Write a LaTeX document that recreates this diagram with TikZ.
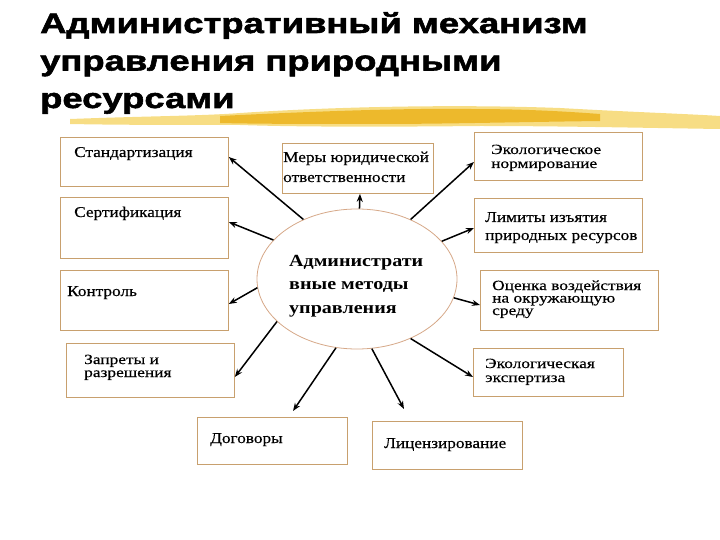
\documentclass[tikz,border=0pt]{standalone}
\usepackage{fontspec}
\setmainfont{Liberation Serif}
\newfontfamily\titlefont{Liberation Sans}[FakeStretch=1.3,FakeBold=2]
\newfontfamily\boxfont{Liberation Serif}[FakeStretch=1.15,FakeBold=0.4]
\newfontfamily\tightfont{Liberation Serif}[FakeStretch=1.24,FakeBold=0.4]
\newfontfamily\ellfont{Liberation Serif}[FakeStretch=1.18]
\usetikzlibrary{shapes.geometric,calc,arrows.meta}
\definecolor{brd}{RGB}{200,160,110}
\definecolor{ellbrd}{RGB}{214,168,136}
\definecolor{ylight}{RGB}{244,206,80}
\definecolor{ydark}{RGB}{236,180,30}
\begin{document}
\begin{tikzpicture}[x=1pt,y=-1pt,
  box/.style={draw=brd,line width=0.8pt,fill=white,inner sep=0pt,anchor=north west},
  lbl/.style={anchor=base west,inner sep=0pt,align=left},
  arr/.style={line width=1.5pt,-{Stealth[length=8pt,width=6pt]}}]
\useasboundingbox (0,0) rectangle (720,540);
% yellow brush stroke
\fill[ylight,opacity=0.7] (70,119) .. controls (150,116) and (200,116) .. (240,113)
  .. controls (330,107) and (450,104) .. (560,108)
  .. controls (630,112) and (690,114) .. (720,116) -- (720,129)
  .. controls (650,128) and (560,126) .. (480,126)
  .. controls (380,127) and (300,127) .. (240,125)
  .. controls (180,125) and (120,125) .. (70,124) -- cycle;
\fill[ydark,opacity=0.85] (220,116) .. controls (300,112) and (400,108) .. (470,109)
  .. controls (520,109) and (560,111) .. (600,114) -- (600,121)
  .. controls (520,122) and (440,124) .. (380,124)
  .. controls (320,124) and (260,124) .. (220,123) -- cycle;
% title
\node[lbl,font=\titlefont\bfseries\fontsize{28}{37.5}\selectfont] (title) at (40,108)
  {Административный механизм\\управления природными\\ресурсами};
% boxes
\node[box,minimum width=168pt,minimum height=49pt] (stand) at (60,137) {};
\node[box,minimum width=168pt,minimum height=61pt] (sert) at (60,197) {};
\node[box,minimum width=168pt,minimum height=60pt] (kontr) at (60,270) {};
\node[box,minimum width=151pt,minimum height=50pt] (mery) at (282,143) {};
\node[box,minimum width=168pt,minimum height=48pt] (enorm) at (474,132) {};
\node[box,minimum width=168pt,minimum height=54pt] (limit) at (474,198) {};
\node[box,minimum width=178pt,minimum height=60pt] (ocen) at (480,270) {};
\node[box,minimum width=168pt,minimum height=54pt] (zapr) at (66,343) {};
\node[box,minimum width=150pt,minimum height=48pt] (eexp) at (473,348) {};
\node[box,minimum width=150pt,minimum height=47pt] (dog) at (197,417) {};
\node[box,minimum width=150pt,minimum height=48pt] (lic) at (372,421) {};
% central ellipse
\node[draw=ellbrd,fill=white,ellipse,line width=0.8pt,minimum width=200pt,minimum height=140pt,inner sep=0pt] (meth) at (357,279) {};
% texts (anchored at the baseline of the last line)
\begin{scope}[every node/.append style={font=\boxfont\fontsize{15}{15}\selectfont}]
\node[lbl] (standt) at (74,157) {Стандартизация};
\node[lbl] (sertt) at (74,217) {Сертификация};
\node[lbl] (kontrt) at (67,296) {Контроль};
\node[lbl,font=\boxfont\fontsize{15}{20}\selectfont] (meryt) at (283,182) {Меры юридической\\ответственности};
\node[lbl,font=\tightfont\fontsize{14}{14}\selectfont] (enormt) at (491,168) {Экологическое\\нормирование};
\node[lbl,font=\boxfont\fontsize{15}{18}\selectfont] (limitt) at (485,240) {Лимиты изъятия\\природных ресурсов};
\node[lbl,font=\tightfont\fontsize{14}{12.5}\selectfont] (ocent) at (492,315) {Оценка воздействия\\на окружающую\\среду};
\node[lbl,font=\tightfont\fontsize{14}{13}\selectfont] (zaprt) at (84,377) {Запреты и\\разрешения};
\node[lbl,font=\tightfont\fontsize{14}{14}\selectfont] (eexpt) at (485,382) {Экологическая\\экспертиза};
\node[lbl] (dogt) at (210,443) {Договоры};
\node[lbl] (lict) at (384,448) {Лицензирование};
\end{scope}
\node[lbl,font=\ellfont\bfseries\fontsize{17}{23.5}\selectfont] (metht) at (289,313) {Администрати\\вные методы\\управления};
% arrows
\draw[arr] (meth.132.6) -- (stand.east |- 0,157);
\draw[arr] (meth.155.3) -- (sert.east |- 0,222);
\draw[arr] (meth.185.2) -- (kontr.east |- 0,304);
\draw[arr] (meth.88) -- (mery.south -| 360,0);
\draw[arr] (meth.48.8) -- (enorm.west |- 0,162);
\draw[arr] (meth.24.1) -- (limit.west |- 0,228);
\draw[arr] (meth.-11.3) -- (ocen.west |- 0,305);
\draw[arr] (meth.208.5) -- (zapr.east |- 0,377);
\draw[arr] (meth.253) -- ($(dog.north -| 293,0)+(0,-6)$);
\draw[arr] (meth.282) -- ($(lic.north -| 404,0)+(0,-12)$);
\draw[arr] (meth.312) -- (eexp.west |- 0,377);
\end{tikzpicture}
\end{document}
